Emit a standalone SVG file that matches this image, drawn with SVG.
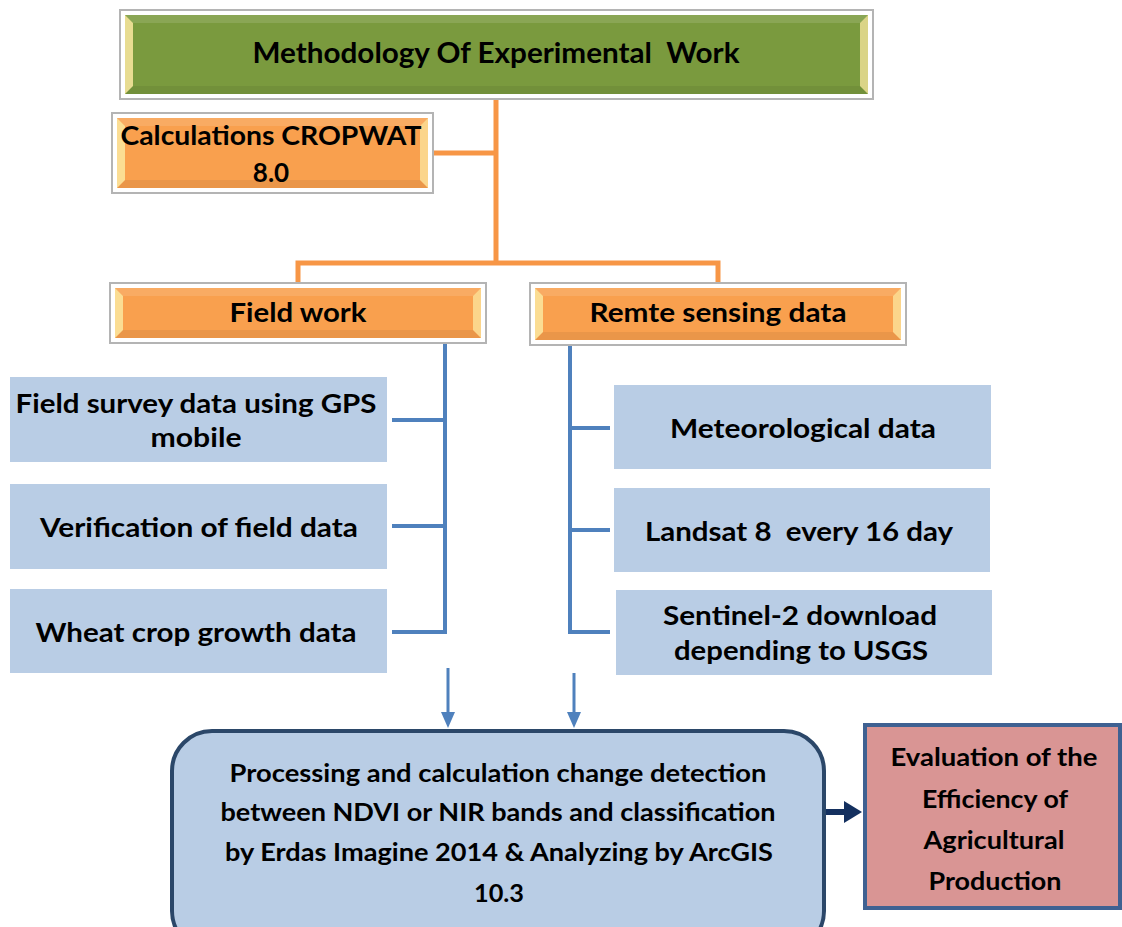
<svg xmlns="http://www.w3.org/2000/svg" width="1122" height="927" viewBox="0 0 1122 927">
  <style>
    .t { font-family: Lato, "Liberation Sans", sans-serif; font-weight: bold; fill: #000; text-anchor: middle; white-space: pre; }
    .frame { fill: #fff; stroke: #b4b4b4; stroke-width: 2; }
    .green { fill: #7a9a3e; }
    .orange { fill: #f9a04e; }
    .bevL { fill: #fbe7a0; opacity: 0.85; }
    .bevR { fill: #fbe7a0; opacity: 0.75; }
    .bevT { fill: #ffffff; opacity: 0.12; }
    .bevB { fill: #000000; opacity: 0.06; }
    .lb { fill: #b9cde5; }
    .org { stroke: #f79646; stroke-width: 5; fill: none; }
    .blu { stroke: #4f81bd; stroke-width: 4; fill: none; }
  </style>

  <!-- connectors -->
  <g id="connectors">
    <!-- orange tree from the title -->
    <path class="org" d="M496,99 V263"/>
    <path class="org" d="M433,153 H496"/>
    <path class="org" d="M298,286 V263 H718 V286"/>
    <!-- field work branch -->
    <path class="blu" d="M445,343 V632"/>
    <path class="blu" d="M392,420 H445"/>
    <path class="blu" d="M392,526 H445"/>
    <path class="blu" d="M392,632 H447"/>
    <!-- remote sensing branch -->
    <path class="blu" d="M570,345 V632"/>
    <path class="blu" d="M568,428 H610"/>
    <path class="blu" d="M568,530 H610"/>
    <path class="blu" d="M568,632 H610"/>
    <!-- down arrows -->
    <path d="M448,668 V714" stroke="#4f81bd" stroke-width="3"/>
    <path d="M441,712 L455,712 L448,728 Z" fill="#4f81bd"/>
    <path d="M574,673 V714" stroke="#4f81bd" stroke-width="3"/>
    <path d="M567,712 L581,712 L574,728 Z" fill="#4f81bd"/>
    <!-- to evaluation -->
    <path d="M818,812 H846" stroke="#14305f" stroke-width="6"/>
    <path d="M844,801 L862,812 L844,823 Z" fill="#14305f"/>
  </g>

  <!-- title -->
  <g id="title">
    <rect class="frame" x="120" y="10" width="753" height="89"/>
    <rect class="green" x="125" y="15" width="743" height="79"/>
    <polygon class="bevT" points="125,15 868,15 860,23 133,23"/>
    <polygon class="bevB" points="125,94 868,94 860,86 133,86"/>
    <polygon class="bevL" points="125,15 133,23 133,86 125,94"/>
    <polygon class="bevR" points="868,15 860,23 860,86 868,94"/>
    <text class="t" x="496" y="63" font-size="28" textLength="487" lengthAdjust="spacingAndGlyphs" xml:space="preserve">Methodology Of Experimental  Work</text>
  </g>

  <!-- cropwat -->
  <g id="cropwat">
    <rect class="frame" x="112" y="113" width="321" height="80"/>
    <rect class="orange" x="117" y="118" width="311" height="70"/>
    <polygon class="bevT" points="117,118 428,118 420,126 125,126"/>
    <polygon class="bevB" points="117,188 428,188 420,180 125,180"/>
    <polygon class="bevL" points="117,118 125,126 125,180 117,188"/>
    <polygon class="bevR" points="428,118 420,126 420,180 428,188"/>
    <text class="t" x="271" y="145" font-size="26" textLength="301" lengthAdjust="spacingAndGlyphs">Calculations CROPWAT</text>
    <text class="t" x="271" y="182" font-size="26">8.0</text>
  </g>

  <!-- field work -->
  <g id="fieldwork">
    <rect class="frame" x="110" y="283" width="376" height="60"/>
    <rect class="orange" x="115" y="288" width="366" height="50"/>
    <polygon class="bevT" points="115,288 481,288 473,296 123,296"/>
    <polygon class="bevB" points="115,338 481,338 473,330 123,330"/>
    <polygon class="bevL" points="115,288 123,296 123,330 115,338"/>
    <polygon class="bevR" points="481,288 473,296 473,330 481,338"/>
    <text class="t" x="298" y="322" font-size="26" textLength="137" lengthAdjust="spacingAndGlyphs">Field work</text>
  </g>

  <!-- remote sensing -->
  <g id="remotesensing">
    <rect class="frame" x="530" y="283" width="376" height="62"/>
    <rect class="orange" x="535" y="288" width="366" height="52"/>
    <polygon class="bevT" points="535,288 901,288 893,296 543,296"/>
    <polygon class="bevB" points="535,340 901,340 893,332 543,332"/>
    <polygon class="bevL" points="535,288 543,296 543,332 535,340"/>
    <polygon class="bevR" points="901,288 893,296 893,332 901,340"/>
    <text class="t" x="718" y="322" font-size="26" textLength="257" lengthAdjust="spacingAndGlyphs">Remte sensing data</text>
  </g>

  <!-- field work items -->
  <g id="gps">
    <rect class="lb" x="10" y="377" width="377" height="85"/>
    <text class="t" x="196" y="413" font-size="26" textLength="361" lengthAdjust="spacingAndGlyphs">Field survey data using GPS</text>
    <text class="t" x="196" y="447" font-size="26" textLength="91" lengthAdjust="spacingAndGlyphs">mobile</text>
  </g>
  <g id="verification">
    <rect class="lb" x="10" y="484" width="377" height="85"/>
    <text class="t" x="199" y="537" font-size="26" textLength="318" lengthAdjust="spacingAndGlyphs">Verification of field data</text>
  </g>
  <g id="wheat">
    <rect class="lb" x="10" y="589" width="377" height="84"/>
    <text class="t" x="196" y="642" font-size="26" textLength="321" lengthAdjust="spacingAndGlyphs">Wheat crop growth data</text>
  </g>

  <!-- remote sensing items -->
  <g id="meteo">
    <rect class="lb" x="614" y="385" width="377" height="84"/>
    <text class="t" x="803" y="438" font-size="26" textLength="266" lengthAdjust="spacingAndGlyphs">Meteorological data</text>
  </g>
  <g id="landsat">
    <rect class="lb" x="614" y="488" width="376" height="84"/>
    <text class="t" x="799" y="541" font-size="26" textLength="308" lengthAdjust="spacingAndGlyphs" xml:space="preserve">Landsat 8  every 16 day</text>
  </g>
  <g id="sentinel">
    <rect class="lb" x="616" y="590" width="376" height="85"/>
    <text class="t" x="800" y="625" font-size="26" textLength="274" lengthAdjust="spacingAndGlyphs">Sentinel-2 download</text>
    <text class="t" x="801" y="660" font-size="26" textLength="254" lengthAdjust="spacingAndGlyphs">depending to USGS</text>
  </g>

  <!-- processing -->
  <g id="processing">
    <rect x="172" y="731" width="652" height="220" rx="40" ry="40" fill="#b9cde5" stroke="#2b4769" stroke-width="4"/>
    <text class="t" x="498" y="782" font-size="24" textLength="537" lengthAdjust="spacingAndGlyphs">Processing and calculation change detection</text>
    <text class="t" x="498" y="821" font-size="24" textLength="555" lengthAdjust="spacingAndGlyphs">between NDVI or NIR bands and classification</text>
    <text class="t" x="499" y="861" font-size="24" textLength="548" lengthAdjust="spacingAndGlyphs">by Erdas Imagine 2014 &amp; Analyzing by ArcGIS</text>
    <text class="t" x="499" y="902" font-size="24" textLength="50" lengthAdjust="spacingAndGlyphs">10.3</text>
  </g>

  <!-- evaluation -->
  <g id="evaluation">
    <rect x="865" y="725" width="255" height="183" fill="#d99594" stroke="#3f6192" stroke-width="4"/>
    <text class="t" x="994" y="766" font-size="25" textLength="207" lengthAdjust="spacingAndGlyphs">Evaluation of the</text>
    <text class="t" x="995" y="808" font-size="25" textLength="146" lengthAdjust="spacingAndGlyphs">Efficiency of</text>
    <text class="t" x="994" y="849" font-size="25" textLength="141" lengthAdjust="spacingAndGlyphs">Agricultural</text>
    <text class="t" x="995" y="890" font-size="25" textLength="133" lengthAdjust="spacingAndGlyphs">Production</text>
  </g>
</svg>
